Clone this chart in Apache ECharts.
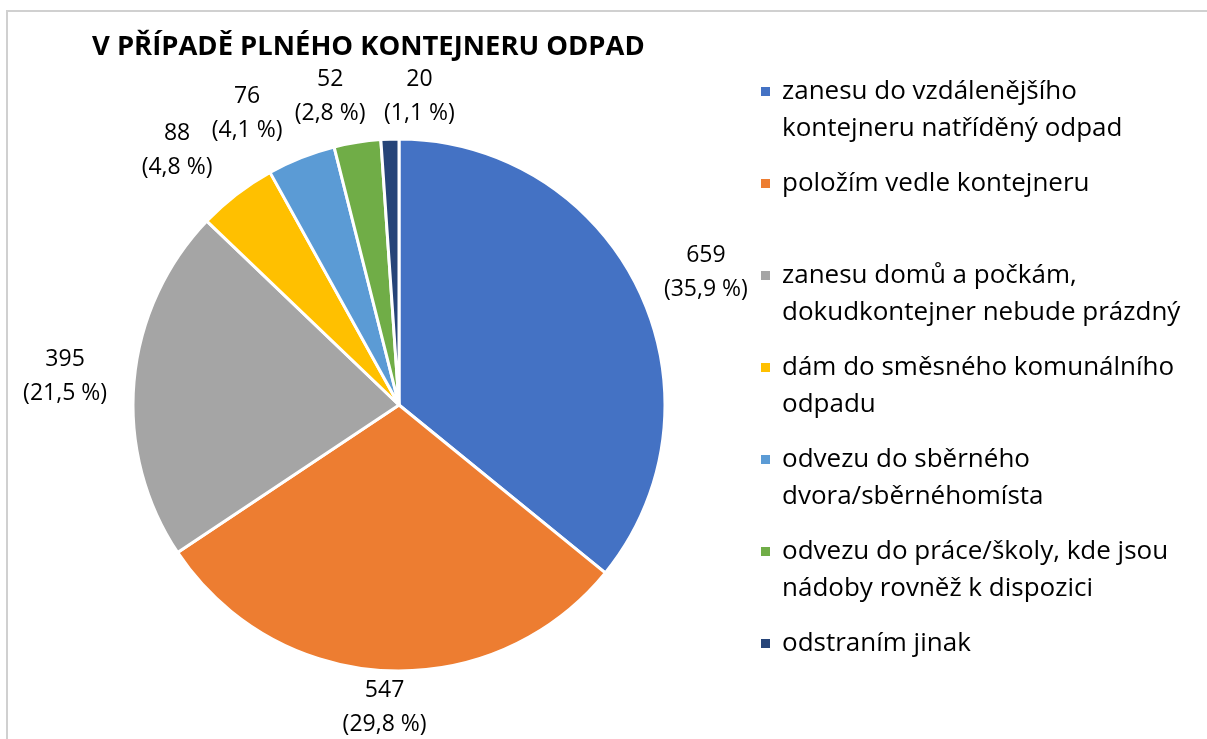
<!DOCTYPE html>
<html>
<head>
<meta charset="utf-8">
<script src="https://cdn.jsdelivr.net/npm/echarts@6/dist/echarts.min.js"></script>
<style>
  html, body { margin: 0; padding: 0; background: #fff; }
  #chart { width: 1207px; height: 739px; }
</style>
</head>
<body>
<div id="chart"></div>
<script>
const categories = [
  'zanesu do vzdálenějšího kontejneru natříděný odpad',
  'položím vedle kontejneru',
  'zanesu domů a počkám, dokudkontejner nebude prázdný',
  'dám do směsného komunálního odpadu',
  'odvezu do sběrného dvora/sběrnéhomísta',
  'odvezu do práce/školy, kde jsou nádoby rovněž k dispozici',
  'odstraním jinak'
]
const counts = [659, 547, 395, 88, 76, 52, 20]

// legend text wrapped the way Excel wrapped it
const legendLines = [
  ['zanesu do vzdálenějšího', 'kontejneru natříděný odpad'],
  ['položím vedle kontejneru', ' '],
  ['zanesu domů a počkám,', 'dokudkontejner nebude prázdný'],
  ['dám do směsného komunálního', 'odpadu'],
  ['odvezu do sběrného', 'dvora/sběrnéhomísta'],
  ['odvezu do práce/školy, kde jsou', 'nádoby rovněž k dispozici'],
  ['odstraním jinak', ' ']
]

const colors = ['#4472C4', '#ED7D31', '#A5A5A5', '#FFC000', '#5B9BD5', '#70AD47', '#264478']
const font = '"Open Sans", sans-serif'

// small shifts of the data labels, so they sit where Excel put them
const labelNudge = [[1, -12], [52, 23], [-2, -4], [2, -33], [4, -31], [28, -32], [83, -29]]

const chart = echarts.init(document.getElementById('chart'))

chart.setOption({
  backgroundColor: '#fff',
  animation: false,
  color: colors,
  title: {
    text: 'V PŘÍPADĚ PLNÉHO KONTEJNERU ODPAD',
    left: 87,
    top: 29,
    textStyle: {
      fontFamily: font,
      fontWeight: 'bold',
      fontSize: 27.4,
      color: '#000'
    }
  },
  graphic: [{
    type: 'rect',
    shape: { x: 7, y: 11, width: 1400, height: 900 },
    style: { fill: null, stroke: '#D0D0D0', lineWidth: 2 },
    silent: true
  }],
  legend: {
    orient: 'vertical',
    left: 754,
    top: 31,
    itemWidth: 11,
    itemHeight: 11,
    itemGap: -19,
    icon: 'rect',
    // blank first line keeps the marker level with the first text line
    formatter: name => ' \n' + legendLines[categories.indexOf(name)].join('\n'),
    textStyle: {
      fontFamily: font,
      fontSize: 26,
      color: '#000',
      lineHeight: 37,
      padding: [0, 0, 0, 6]
    }
  },
  series: [{
    type: 'pie',
    center: [399, 405],
    radius: 266,
    startAngle: 90,
    clockwise: true,
    percentPrecision: 1,
    avoidLabelOverlap: false,
    itemStyle: { borderColor: '#fff', borderWidth: 3 },
    label: {
      show: true,
      position: 'outside',
      formatter: p => '{a|' + p.value + '}\n{a|(' + p.percent.toFixed(1).replace('.', ',') + ' %)}',
      rich: {
        a: { width: 96, align: 'center', fontFamily: font, fontSize: 23, lineHeight: 34, color: '#000' }
      }
    },
    labelLine: { show: false, length: 14, length2: 0 },
    labelLayout: p => ({ dx: labelNudge[p.dataIndex][0], dy: labelNudge[p.dataIndex][1] }),
    data: categories.map((name, i) => ({ name, value: counts[i] }))
  }]
})
</script>
</body>
</html>
